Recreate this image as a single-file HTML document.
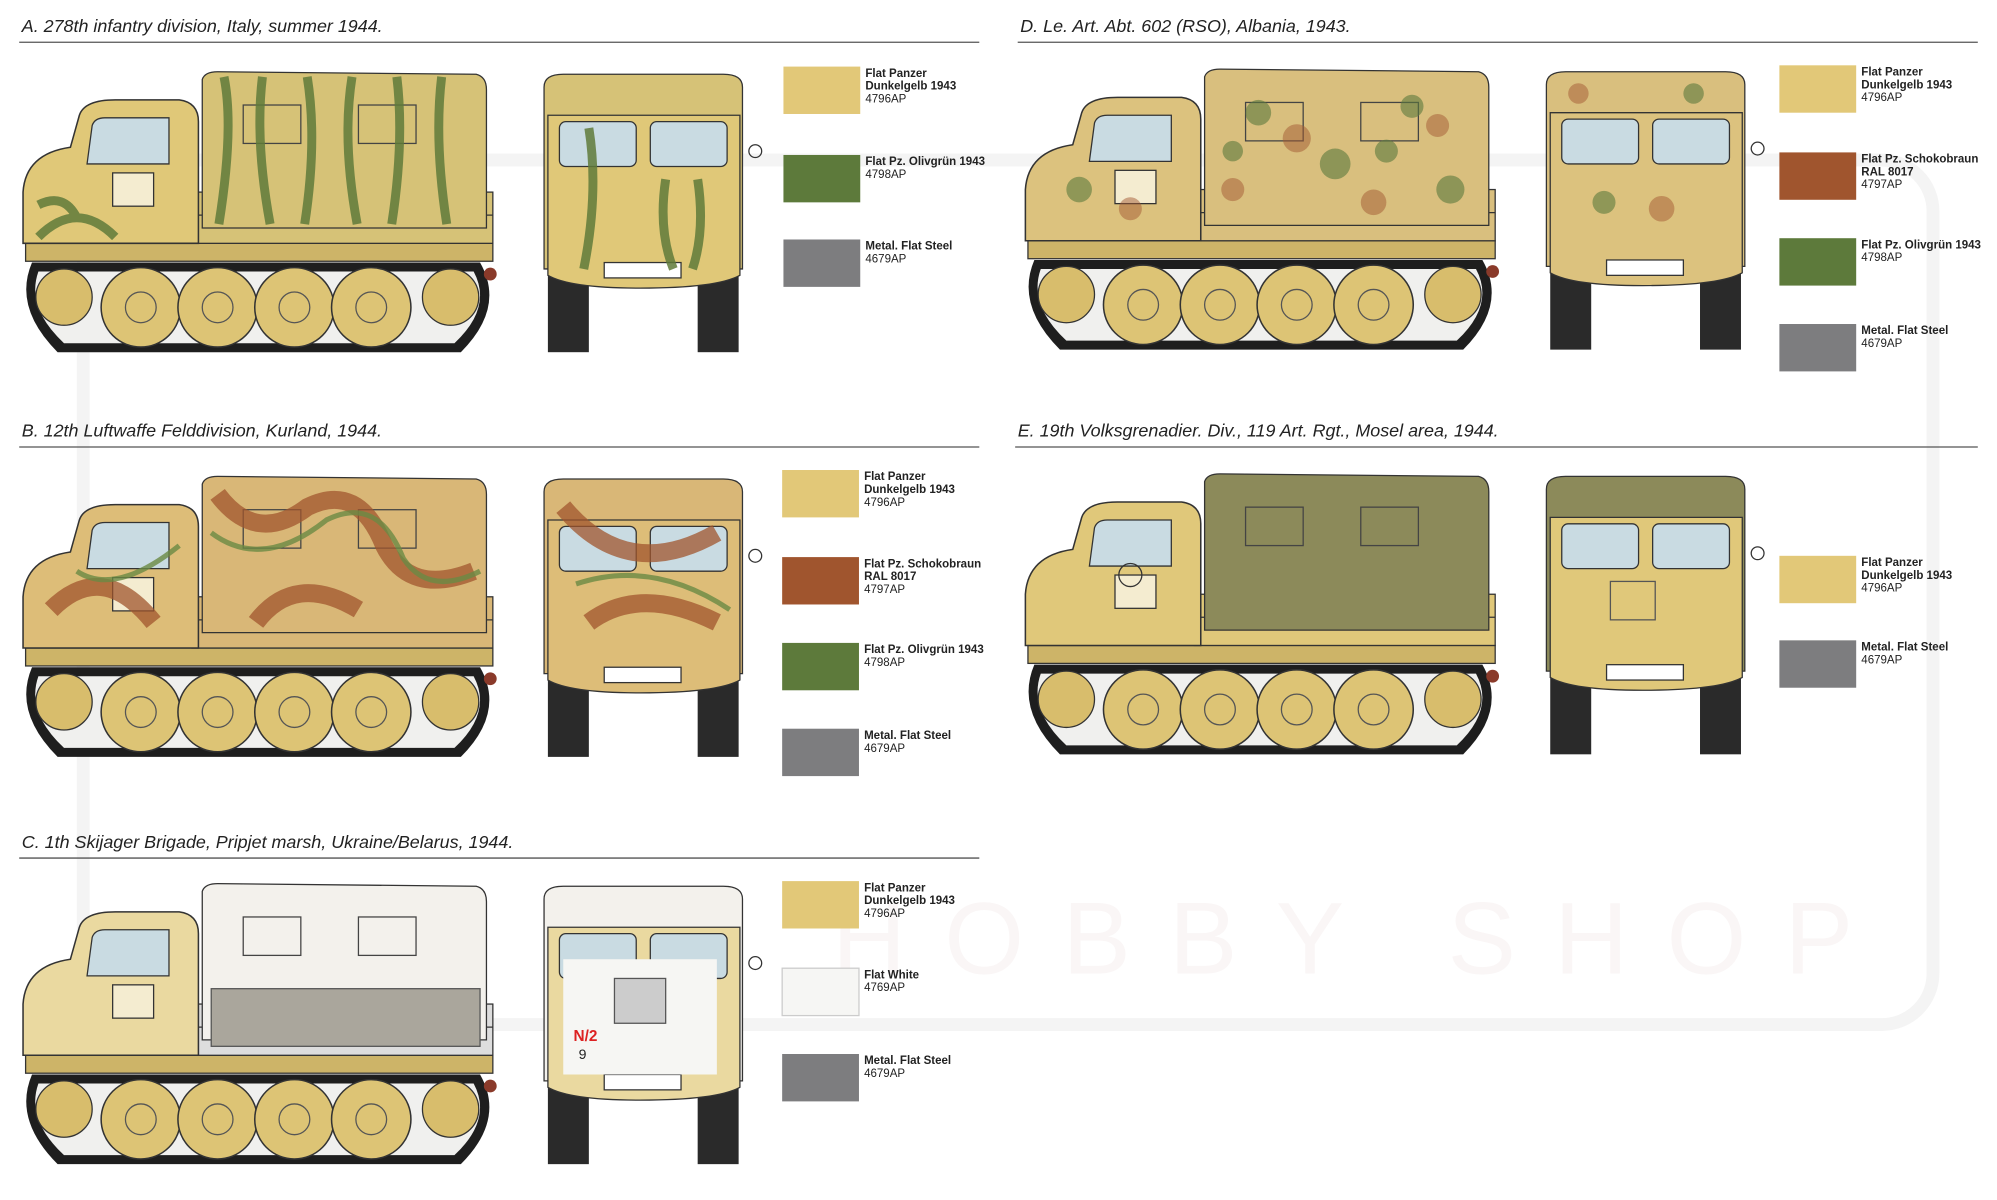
<!DOCTYPE html>
<html><head><meta charset="utf-8"><style>
html,body{margin:0;padding:0;background:#fff}
svg{display:block}
text{font-family:"Liberation Sans",sans-serif}
</style></head><body>
<svg width="1997" height="1200" viewBox="0 0 1560 937" preserveAspectRatio="none" xmlns="http://www.w3.org/2000/svg">
<defs>
<g id="side">
  <path d="M25 205 L375 205 Q395 240 360 275 L45 275 Q10 240 25 205 Z" fill="#1e1e1e"/>
  <path d="M30 212 L370 212 Q385 240 355 268 L50 268 Q20 240 30 212 Z" fill="#f0f0ee"/>
  <circle cx="50" cy="232" r="22" fill="#d8bd6c" stroke="#333"/>
  <circle cx="352" cy="232" r="22" fill="#d8bd6c" stroke="#333"/>
  <g fill="#ddc475" stroke="#333" stroke-width="1.2">
   <circle cx="110" cy="240" r="31"/><circle cx="170" cy="240" r="31"/><circle cx="230" cy="240" r="31"/><circle cx="290" cy="240" r="31"/>
  </g>
  <g fill="none" stroke="#555"><circle cx="110" cy="240" r="12"/><circle cx="170" cy="240" r="12"/><circle cx="230" cy="240" r="12"/><circle cx="290" cy="240" r="12"/></g>
  <rect x="20" y="190" width="365" height="14" fill="#cdb468" stroke="#333"/>
  <rect x="150" y="150" width="235" height="40" fill="var(--b)" stroke="#333"/>
  <line x1="150" y1="168" x2="385" y2="168" stroke="#333"/>
  <path d="M158 62 Q160 56 170 56 L372 58 Q380 60 380 70 L380 178 L158 178 Z" fill="var(--c)" stroke="#333"/>
  <rect x="190" y="82" width="45" height="30" fill="none" stroke="#444"/>
  <rect x="280" y="82" width="45" height="30" fill="none" stroke="#444"/>
  <path d="M18 190 L18 150 Q20 120 55 115 L62 90 Q66 78 90 78 L140 78 Q155 80 155 95 L155 190 Z" fill="var(--k)" stroke="#333" stroke-width="1.2"/>
  <path d="M72 98 Q74 92 82 92 L132 92 L132 128 L68 128 Z" fill="#c9dbe2" stroke="#333"/>
  <rect x="88" y="135" width="32" height="26" fill="#f4ecd0" stroke="#333"/>
  <circle cx="383" cy="214" r="5" fill="#8a3a2a"/>
</g>
<g id="front">
  <rect x="428" y="200" width="32" height="75" fill="#2a2a2a"/>
  <rect x="545" y="200" width="32" height="75" fill="#2a2a2a"/>
  <path d="M425 68 Q425 58 440 58 L565 58 Q580 58 580 68 L580 210 L425 210 Z" fill="var(--c)" stroke="#333"/>
  <path d="M428 90 L578 90 L578 215 Q560 225 500 225 Q445 225 428 215 Z" fill="var(--k)" stroke="#333"/>
  <rect x="437" y="95" width="60" height="35" rx="5" fill="#c9dbe2" stroke="#333"/>
  <rect x="508" y="95" width="60" height="35" rx="5" fill="#c9dbe2" stroke="#333"/>
  <rect x="472" y="205" width="60" height="12" fill="#fff" stroke="#333"/>
  <circle cx="590" cy="118" r="5" fill="none" stroke="#333"/>
</g>
</defs>

<rect x="65" y="125" width="1445" height="675" rx="40" fill="none" stroke="#f4f4f4" stroke-width="10"/>
<text x="650" y="760" font-size="80" fill="#faf6f6" letter-spacing="30">HOBBY SHOP</text>

<g font-style="italic" font-size="14" fill="#222">
<text x="17" y="25">A. 278th infantry division, Italy, summer 1944.</text>
<text x="797" y="25">D. Le. Art. Abt. 602 (RSO), Albania, 1943.</text>
<text x="17" y="341">B. 12th Luftwaffe Felddivision, Kurland, 1944.</text>
<text x="795" y="341">E. 19th Volksgrenadier. Div., 119 Art. Rgt., Mosel area, 1944.</text>
<text x="17" y="662">C. 1th Skijager Brigade, Pripjet marsh, Ukraine/Belarus, 1944.</text>
</g>
<g stroke="#555" stroke-width="1">
<line x1="15" y1="33" x2="765" y2="33"/><line x1="795" y1="33" x2="1545" y2="33"/>
<line x1="15" y1="349" x2="765" y2="349"/><line x1="793" y1="349" x2="1545" y2="349"/>
<line x1="15" y1="670" x2="765" y2="670"/>
</g>

<g style="--c:#d6c277;--k:#e0c878;--b:#d6c277"><use href="#side"/><use href="#front"/>
 <g stroke="#5f7a3a" stroke-width="7" fill="none" opacity=".85">
 <path d="M175 60 q8 40 -4 115M205 60 q-6 50 6 115M240 60 q8 50 -2 115M275 60 q-8 50 4 115M310 60 q6 50 -4 115M345 60 q-6 50 4 115M30 160 q20 -10 30 10M30 185 q30 -30 60 0M460 100 q8 50 -4 110M520 140 q-6 40 6 70M545 140 q6 40 -4 70"/></g></g>
<g transform="translate(783,-2)" style="--c:#d9bf7e;--k:#dcc27e;--b:#d9bf7e"><use href="#side"/><use href="#front"/>
 <g fill="#5c7a3e" opacity=".6"><circle cx="200" cy="90" r="10"/><circle cx="260" cy="130" r="12"/><circle cx="320" cy="85" r="9"/><circle cx="350" cy="150" r="11"/><circle cx="60" cy="150" r="10"/><circle cx="470" cy="160" r="9"/><circle cx="540" cy="75" r="8"/><circle cx="180" cy="120" r="8"/><circle cx="300" cy="120" r="9"/></g>
 <g fill="#a35a34" opacity=".5"><circle cx="230" cy="110" r="11"/><circle cx="290" cy="160" r="10"/><circle cx="180" cy="150" r="9"/><circle cx="100" cy="165" r="9"/><circle cx="515" cy="165" r="10"/><circle cx="450" cy="75" r="8"/><circle cx="340" cy="100" r="9"/></g></g>
<g transform="translate(0,316)" style="--c:#d9b777;--k:#ddbd78;--b:#d9b777"><use href="#side"/><use href="#front"/>
 <g fill="none" stroke="#a0552e" stroke-width="14" opacity=".75"><path d="M170 70 q30 40 70 10 q40 -20 60 30 q20 40 70 20M40 160 q40 -40 80 10M200 170 q30 -40 80 -10M440 80 q50 60 120 20M460 170 q40 -30 100 0"/></g>
 <g fill="none" stroke="#6a8a44" stroke-width="4" opacity=".8"><path d="M165 100 q40 30 90 -10 q40 -20 60 30 q20 30 60 10M60 130 q30 20 80 -20M450 140 q60 -20 120 20"/></g></g>
<g transform="translate(783,314)" style="--c:#8c8a5a;--k:#e0c87a;--b:#e0c87a"><use href="#side"/><use href="#front"/>
 <circle cx="100" cy="135" r="9" fill="none" stroke="#333"/><rect x="475" y="140" width="35" height="30" fill="none" stroke="#555"/></g>
<g transform="translate(0,634)" style="--c:#f3f1ec;--k:#ead9a0;--b:#ddd"><use href="#side"/><use href="#front"/>
 <g fill="#aaa69c" stroke="#555"><rect x="165" y="138" width="210" height="45"/></g>
 <rect x="440" y="115" width="120" height="90" fill="#f6f6f3"/>
 <rect x="480" y="130" width="40" height="35" fill="#ccc" stroke="#555"/>
 <text x="448" y="179" font-size="12" fill="#d22" font-weight="bold">N/2</text>
 <text x="452" y="193" font-size="11" fill="#222">9</text></g>

<g font-size="9" fill="#222">
<g transform="translate(612,52)">
 <rect width="60" height="37" fill="#e2c878"/><text x="64" y="8" font-weight="bold">Flat Panzer</text><text x="64" y="18" font-weight="bold">Dunkelgelb 1943</text><text x="64" y="28">4796AP</text>
 <rect y="69" width="60" height="37" fill="#5d7a3b"/><text x="64" y="77" font-weight="bold">Flat Pz. Olivgrün 1943</text><text x="64" y="87">4798AP</text>
 <rect y="135" width="60" height="37" fill="#7d7d7f"/><text x="64" y="143" font-weight="bold">Metal. Flat Steel</text><text x="64" y="153">4679AP</text>
</g>
<g transform="translate(1390,51)">
 <rect width="60" height="37" fill="#e2c878"/><text x="64" y="8" font-weight="bold">Flat Panzer</text><text x="64" y="18" font-weight="bold">Dunkelgelb 1943</text><text x="64" y="28">4796AP</text>
 <rect y="68" width="60" height="37" fill="#a0552e"/><text x="64" y="76" font-weight="bold">Flat Pz. Schokobraun</text><text x="64" y="86" font-weight="bold">RAL 8017</text><text x="64" y="96">4797AP</text>
 <rect y="135" width="60" height="37" fill="#5d7a3b"/><text x="64" y="143" font-weight="bold">Flat Pz. Olivgrün 1943</text><text x="64" y="153">4798AP</text>
 <rect y="202" width="60" height="37" fill="#7d7d7f"/><text x="64" y="210" font-weight="bold">Metal. Flat Steel</text><text x="64" y="220">4679AP</text>
</g>
<g transform="translate(611,367)">
 <rect width="60" height="37" fill="#e2c878"/><text x="64" y="8" font-weight="bold">Flat Panzer</text><text x="64" y="18" font-weight="bold">Dunkelgelb 1943</text><text x="64" y="28">4796AP</text>
 <rect y="68" width="60" height="37" fill="#a0552e"/><text x="64" y="76" font-weight="bold">Flat Pz. Schokobraun</text><text x="64" y="86" font-weight="bold">RAL 8017</text><text x="64" y="96">4797AP</text>
 <rect y="135" width="60" height="37" fill="#5d7a3b"/><text x="64" y="143" font-weight="bold">Flat Pz. Olivgrün 1943</text><text x="64" y="153">4798AP</text>
 <rect y="202" width="60" height="37" fill="#7d7d7f"/><text x="64" y="210" font-weight="bold">Metal. Flat Steel</text><text x="64" y="220">4679AP</text>
</g>
<g transform="translate(1390,434)">
 <rect width="60" height="37" fill="#e2c878"/><text x="64" y="8" font-weight="bold">Flat Panzer</text><text x="64" y="18" font-weight="bold">Dunkelgelb 1943</text><text x="64" y="28">4796AP</text>
 <rect y="66" width="60" height="37" fill="#7d7d7f"/><text x="64" y="74" font-weight="bold">Metal. Flat Steel</text><text x="64" y="84">4679AP</text>
</g>
<g transform="translate(611,688)">
 <rect width="60" height="37" fill="#e2c878"/><text x="64" y="8" font-weight="bold">Flat Panzer</text><text x="64" y="18" font-weight="bold">Dunkelgelb 1943</text><text x="64" y="28">4796AP</text>
 <rect y="68" width="60" height="37" fill="#f6f6f4" stroke="#ccc"/><text x="64" y="76" font-weight="bold">Flat White</text><text x="64" y="86">4769AP</text>
 <rect y="135" width="60" height="37" fill="#7d7d7f"/><text x="64" y="143" font-weight="bold">Metal. Flat Steel</text><text x="64" y="153">4679AP</text>
</g>
</g>
</svg>
</body></html>
